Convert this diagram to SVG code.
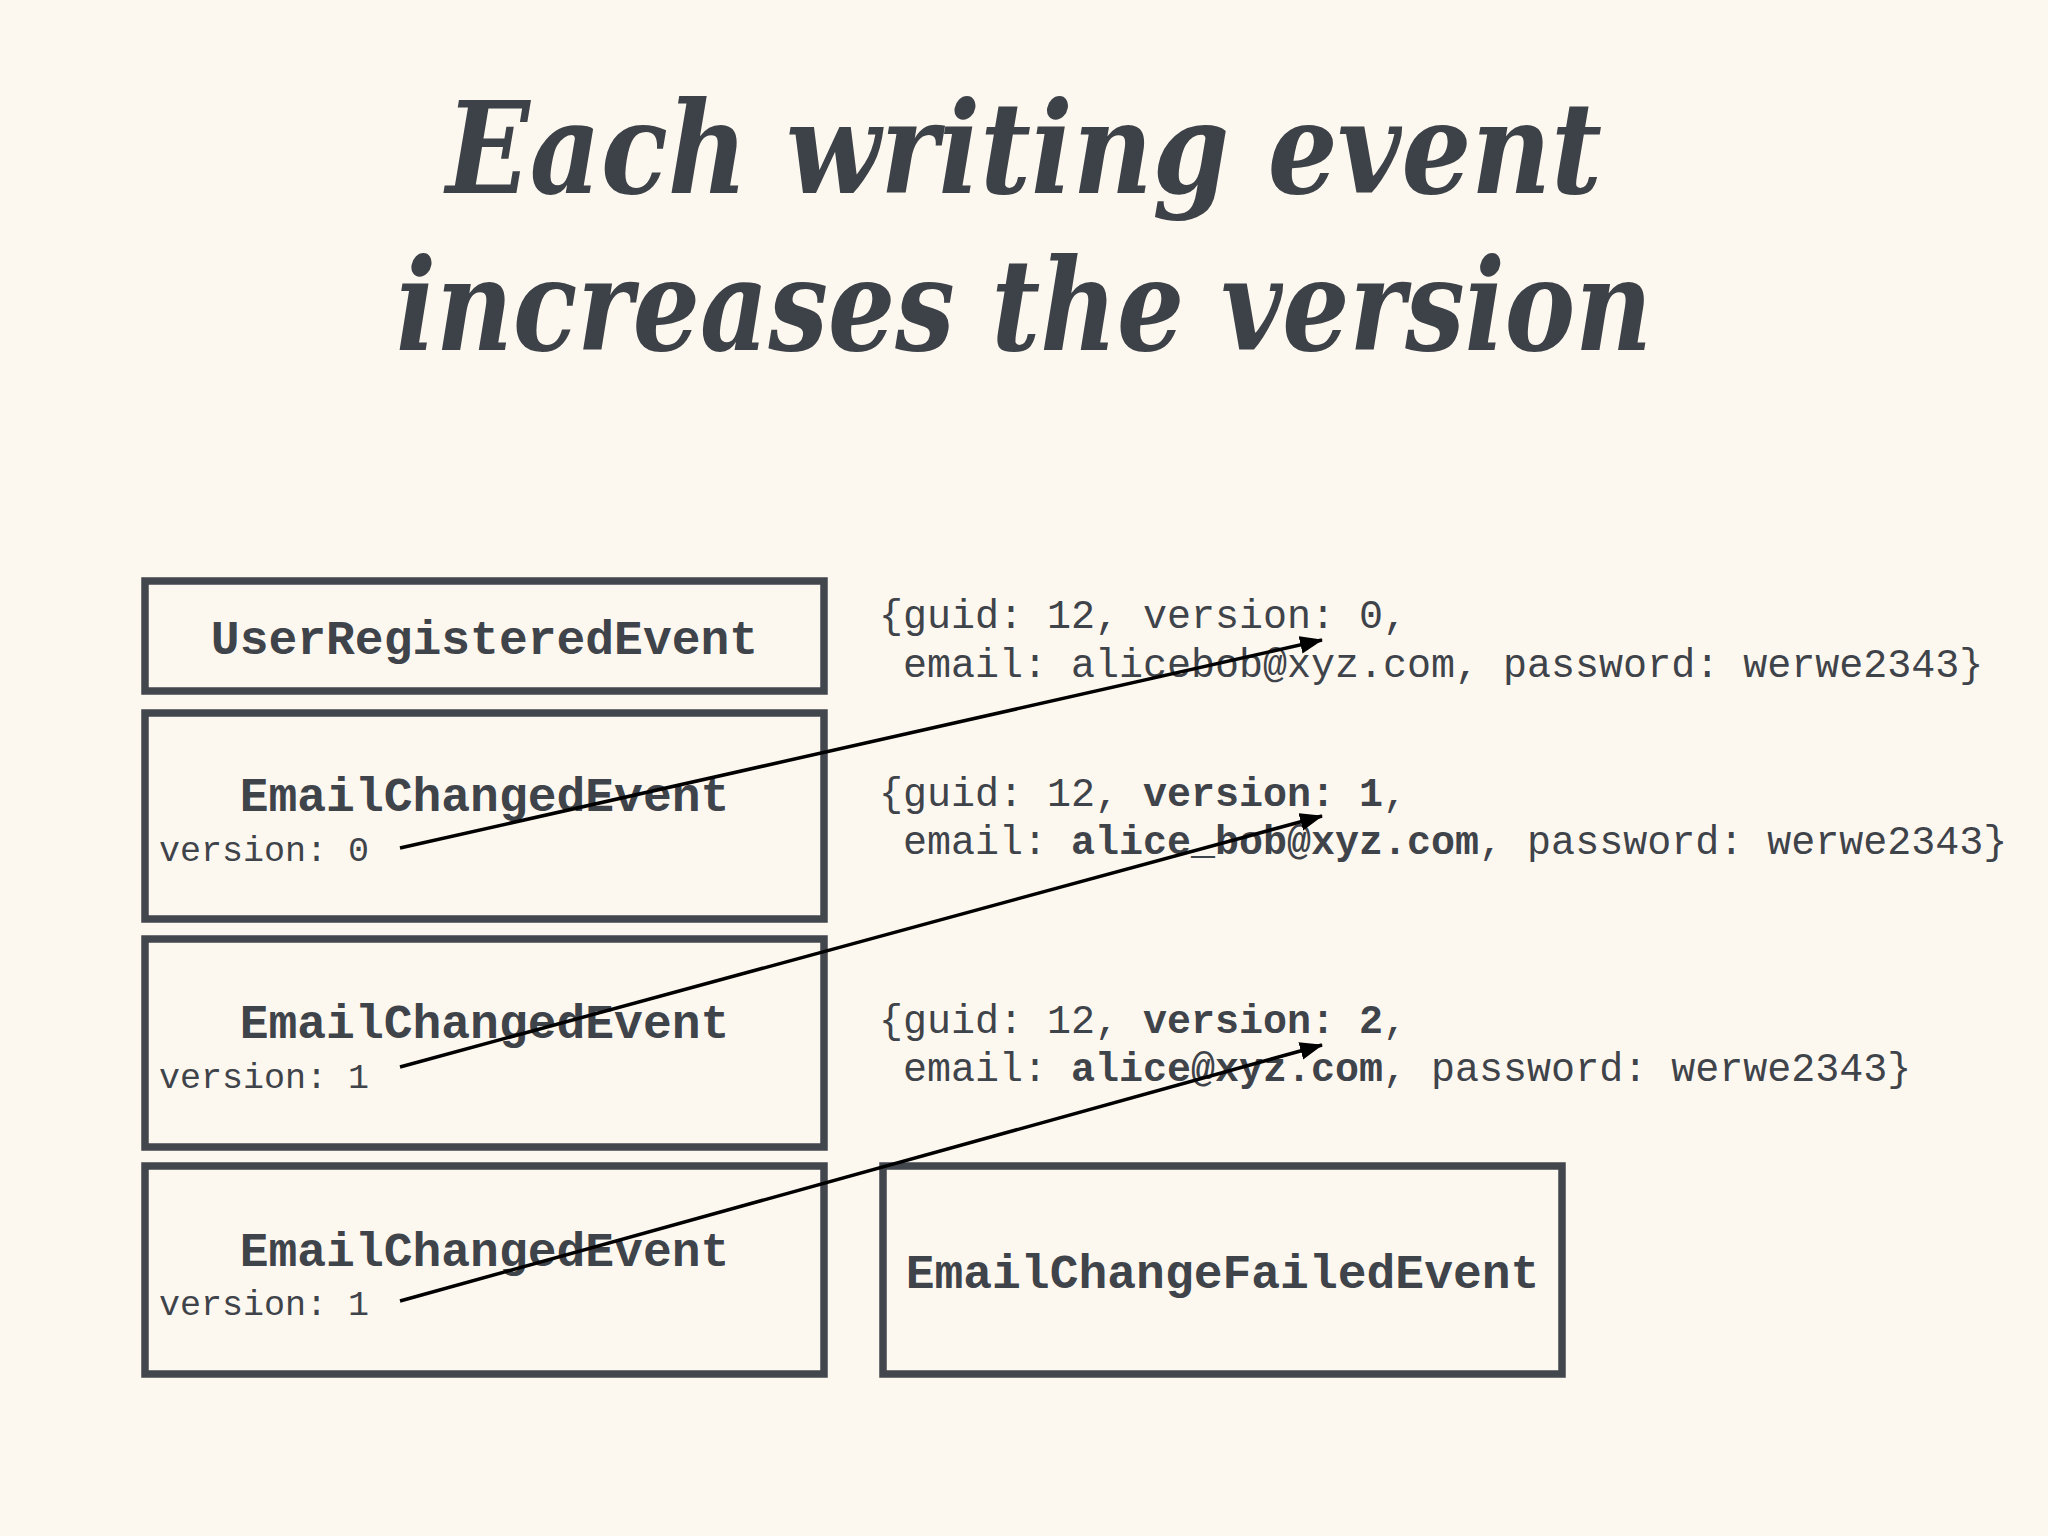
<svg xmlns="http://www.w3.org/2000/svg" width="2048" height="1536" viewBox="0 0 2048 1536">
<style>
.title{font-family:"DejaVu Serif","Liberation Serif",serif;font-weight:bold;font-style:italic;font-size:128px;fill:#3d4148}
.box{fill:none;stroke:#42464d;stroke-width:7.5}
.name{font-family:"Liberation Mono","DejaVu Sans Mono",monospace;font-weight:bold;font-size:48px;fill:#3f434a;text-anchor:middle}
.ver{font-family:"Liberation Mono","DejaVu Sans Mono",monospace;font-size:35px;fill:#3f434a}
.data{font-family:"Liberation Mono","DejaVu Sans Mono",monospace;font-size:40px;fill:#3f434a;white-space:pre}
.b{font-weight:bold}
.conn{stroke:#000;stroke-width:3.5;fill:none;marker-end:url(#arr)}
</style>
<defs>
<marker id="arr" markerUnits="userSpaceOnUse" markerWidth="26" markerHeight="20" refX="22" refY="9" orient="auto">
<path d="M0,0 L23,9 L0,18 z" fill="#000"/>
</marker>
</defs>
<rect width="2048" height="1536" fill="#fdf8ef"/>
<g id="title">
<text class="title" x="1024" y="193" text-anchor="middle" textLength="1156" lengthAdjust="spacingAndGlyphs">Each writing event</text>
<text class="title" x="1024" y="350" text-anchor="middle" textLength="1256" lengthAdjust="spacingAndGlyphs">increases the version</text>
</g>
<g id="node-userregistered">
<rect class="box" x="145" y="581" width="679" height="110"/>
<text class="name" x="484.5" y="654">UserRegisteredEvent</text>
</g>
<g id="node-emailchanged-0">
<rect class="box" x="145" y="713" width="679" height="206"/>
<text class="name" x="484.5" y="811">EmailChangedEvent</text>
<text class="ver" x="159" y="861">version: 0</text>
</g>
<g id="node-emailchanged-1">
<rect class="box" x="145" y="939" width="679" height="208"/>
<text class="name" x="484.5" y="1038">EmailChangedEvent</text>
<text class="ver" x="159" y="1088">version: 1</text>
</g>
<g id="node-emailchanged-2">
<rect class="box" x="145" y="1166" width="679" height="208"/>
<text class="name" x="484.5" y="1266">EmailChangedEvent</text>
<text class="ver" x="159" y="1315">version: 1</text>
</g>
<g id="node-emailchangefailed">
<rect class="box" x="883" y="1166" width="679" height="208"/>
<text class="name" x="1222.5" y="1288">EmailChangeFailedEvent</text>
</g>
<g id="state-0">
<text class="data" x="879" y="628">{guid: 12, version: 0,</text>
<text class="data" x="879" y="677"> email: alicebob@xyz.com, password: werwe2343}</text>
</g>
<g id="state-1">
<text class="data" x="879" y="806">{guid: 12, <tspan class="b">version: 1</tspan>,</text>
<text class="data" x="879" y="854"> email: <tspan class="b">alice_bob@xyz.com</tspan>, password: werwe2343}</text>
</g>
<g id="state-2">
<text class="data" x="879" y="1033">{guid: 12, <tspan class="b">version: 2</tspan>,</text>
<text class="data" x="879" y="1081"> email: <tspan class="b">alice@xyz.com</tspan>, password: werwe2343}</text>
</g>
<g id="connectors">
<line class="conn" x1="400" y1="848" x2="1322" y2="640"/>
<line class="conn" x1="400" y1="1067" x2="1322" y2="816"/>
<line class="conn" x1="400" y1="1301" x2="1322" y2="1045"/>
</g>
</svg>
